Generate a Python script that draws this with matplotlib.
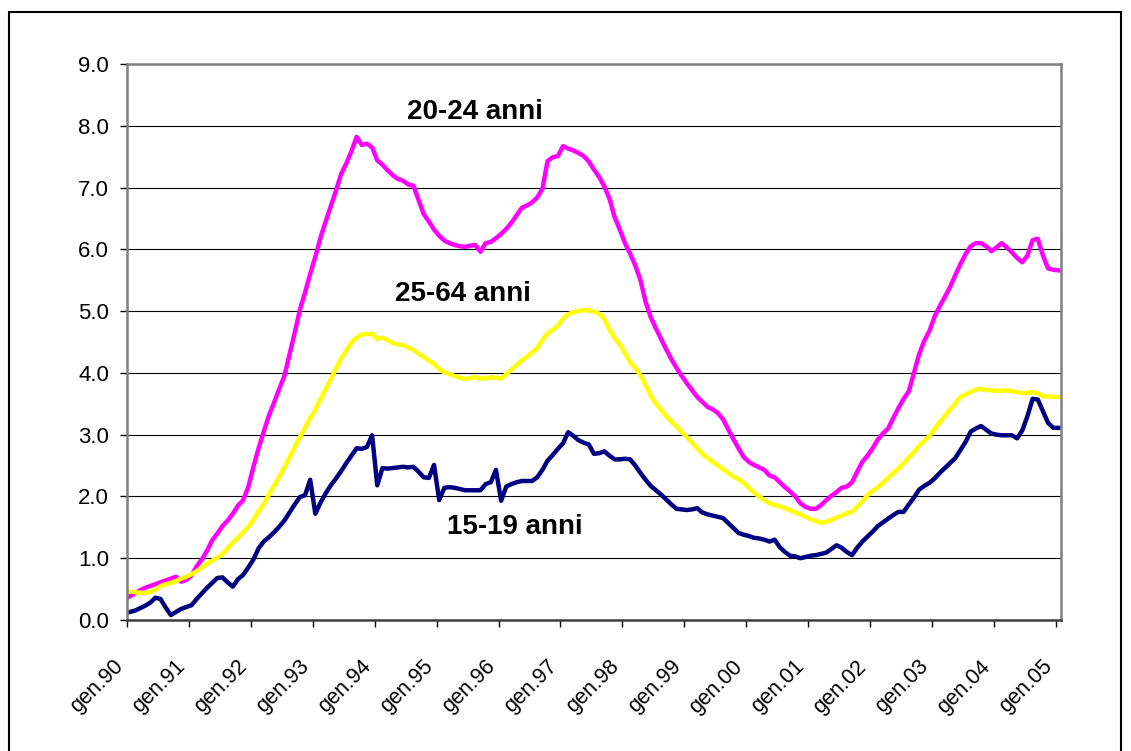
import numpy as np
import matplotlib
matplotlib.use('Agg')
import matplotlib.pyplot as plt
from matplotlib.patches import Rectangle
from matplotlib.transforms import ScaledTranslation

plt.rcParams['font.family'] = ['Liberation Sans', 'DejaVu Sans']

# tick labels, one every 12 months (gen.90 ... gen.05)
year_labels = ['gen.90', 'gen.91', 'gen.92', 'gen.93', 'gen.94', 'gen.95', 'gen.96', 'gen.97',
               'gen.98', 'gen.99', 'gen.00', 'gen.01', 'gen.02', 'gen.03', 'gen.04', 'gen.05']

# monthly values, gen.90 -> gen.05
age_20_24 = [0.38, 0.43, 0.48, 0.52, 0.55, 0.58, 0.61, 0.64, 0.67, 0.70, 0.62, 0.65,
             0.72, 0.87, 0.98, 1.12, 1.29, 1.40, 1.52, 1.61, 1.72, 1.85, 1.94, 2.15,
             2.48, 2.78, 3.05, 3.31, 3.52, 3.74, 3.95, 4.30, 4.65, 5.02, 5.30, 5.60,
             5.88, 6.19, 6.45, 6.70, 6.95, 7.22, 7.39, 7.59, 7.82, 7.69, 7.71, 7.65,
             7.44, 7.37, 7.28, 7.20, 7.14, 7.11, 7.05, 7.03, 6.80, 6.57, 6.45, 6.32,
             6.22, 6.14, 6.10, 6.07, 6.05, 6.04, 6.06, 6.07, 5.96, 6.10, 6.12, 6.18,
             6.25, 6.33, 6.43, 6.55, 6.67, 6.71, 6.76, 6.84, 6.98, 7.43, 7.49, 7.51,
             7.67, 7.63, 7.60, 7.56, 7.51, 7.42, 7.29, 7.17, 7.02, 6.82, 6.52, 6.32,
             6.10, 5.93, 5.74, 5.50, 5.15, 4.90, 4.72, 4.55, 4.38, 4.22, 4.08, 3.95,
             3.83, 3.72, 3.61, 3.53, 3.45, 3.41, 3.35, 3.25, 3.09, 2.93, 2.78, 2.64,
             2.56, 2.51, 2.47, 2.43, 2.34, 2.31, 2.23, 2.15, 2.08, 2.00, 1.89, 1.83,
             1.80, 1.80, 1.86, 1.94, 2.01, 2.07, 2.14, 2.16, 2.23, 2.40, 2.56, 2.66,
             2.78, 2.92, 3.02, 3.10, 3.27, 3.43, 3.58, 3.70, 4.00, 4.30, 4.52, 4.68,
             4.91, 5.08, 5.23, 5.39, 5.58, 5.76, 5.92, 6.05, 6.10, 6.10, 6.05, 5.97,
             6.03, 6.10, 6.03, 5.95, 5.86, 5.79, 5.90, 6.15, 6.17, 5.90, 5.69, 5.67,
             5.66]

age_25_64 = [0.46, 0.45, 0.44, 0.44, 0.45, 0.49, 0.55, 0.58, 0.60, 0.63, 0.67, 0.70,
             0.74, 0.79, 0.85, 0.91, 0.96, 1.01, 1.07, 1.16, 1.25, 1.33, 1.42, 1.51,
             1.62, 1.76, 1.88, 2.03, 2.17, 2.32, 2.47, 2.64, 2.80, 2.96, 3.11, 3.27,
             3.40, 3.58, 3.74, 3.90, 4.07, 4.23, 4.36, 4.49, 4.57, 4.62, 4.63, 4.63,
             4.55, 4.57, 4.53, 4.48, 4.46, 4.45, 4.41, 4.37, 4.31, 4.26, 4.20, 4.15,
             4.06, 4.01, 3.98, 3.95, 3.92, 3.90, 3.92, 3.93, 3.91, 3.91, 3.93, 3.92,
             3.91, 3.98, 4.05, 4.13, 4.20, 4.26, 4.33, 4.40, 4.53, 4.64, 4.70, 4.76,
             4.88, 4.95, 4.98, 5.00, 5.02, 5.01, 4.99, 4.96, 4.87, 4.70, 4.56, 4.46,
             4.32, 4.17, 4.08, 3.96, 3.80, 3.63, 3.50, 3.40, 3.30, 3.21, 3.13, 3.04,
             2.96, 2.87, 2.78, 2.69, 2.62, 2.56, 2.50, 2.44, 2.38, 2.32, 2.28, 2.22,
             2.14, 2.06, 2.00, 1.94, 1.89, 1.86, 1.84, 1.81, 1.78, 1.74, 1.71, 1.67,
             1.63, 1.60, 1.57, 1.59, 1.62, 1.66, 1.69, 1.73, 1.75, 1.83, 1.92, 2.02,
             2.09, 2.15, 2.22, 2.30, 2.38, 2.45, 2.54, 2.63, 2.72, 2.82, 2.90, 2.98,
             3.09, 3.20, 3.30, 3.41, 3.50, 3.61, 3.65, 3.69, 3.73, 3.74, 3.72, 3.72,
             3.71, 3.71, 3.72, 3.70, 3.69, 3.67, 3.68, 3.69, 3.67, 3.62, 3.62, 3.61,
             3.61]

age_15_19 = [0.13, 0.15, 0.19, 0.23, 0.28, 0.36, 0.34, 0.20, 0.08, 0.13, 0.18, 0.21,
             0.24, 0.34, 0.43, 0.52, 0.60, 0.68, 0.69, 0.61, 0.54, 0.66, 0.73, 0.85,
             0.98, 1.16, 1.27, 1.34, 1.42, 1.51, 1.61, 1.74, 1.87, 1.99, 2.02, 2.27,
             1.72, 1.90, 2.05, 2.18, 2.29, 2.41, 2.54, 2.66, 2.78, 2.77, 2.80, 2.99,
             2.18, 2.46, 2.45, 2.46, 2.47, 2.48, 2.47, 2.48, 2.40, 2.31, 2.30, 2.51,
             1.94, 2.14, 2.15, 2.14, 2.12, 2.10, 2.10, 2.10, 2.10, 2.20, 2.23, 2.43,
             1.93, 2.16, 2.20, 2.23, 2.25, 2.25, 2.25, 2.31, 2.43, 2.58, 2.67, 2.77,
             2.86, 3.04, 2.98, 2.91, 2.87, 2.84, 2.69, 2.70, 2.73, 2.66, 2.60, 2.60,
             2.61, 2.60, 2.50, 2.38, 2.27, 2.17, 2.10, 2.03, 1.95, 1.87, 1.80, 1.79,
             1.78, 1.79, 1.81, 1.74, 1.71, 1.69, 1.67, 1.65, 1.57, 1.49, 1.41, 1.38,
             1.36, 1.33, 1.32, 1.30, 1.27, 1.30, 1.18, 1.10, 1.04, 1.03, 1.00, 1.02,
             1.04, 1.05, 1.07, 1.09, 1.15, 1.21, 1.17, 1.10, 1.05, 1.17, 1.27, 1.35,
             1.43, 1.52, 1.58, 1.64, 1.70, 1.75, 1.75, 1.87, 1.98, 2.11, 2.17, 2.22,
             2.29, 2.38, 2.46, 2.54, 2.62, 2.75, 2.88, 3.05, 3.10, 3.14, 3.08, 3.02,
             3.00, 2.99, 2.99, 2.99, 2.94, 3.07, 3.30, 3.58, 3.57, 3.38, 3.19, 3.11,
             3.11]

W, H = 1131, 751
fig = plt.figure(figsize=(W / 100, H / 100), dpi=100)
fig.patch.set_facecolor('white')

# outer chart border (bottom edge falls outside the picture)
fig.patches.append(Rectangle((9 / W, 1 - 770 / H), (1121 - 9) / W, (770 - 12) / H,
                             transform=fig.transFigure, fill=False, ec='black', lw=1.5,
                             clip_on=False))

ax = fig.add_axes([127 / W, 1 - 620 / H, (1061 - 127) / W, (620 - 64) / H])

# categories are centred between tick marks (Excel style)
months = np.arange(len(age_20_24)) + 0.5
ax.plot(months, age_20_24, color='#FF00FF', lw=3.2)
ax.plot(months, age_25_64, color='#FFFF00', lw=3.2)
ax.plot(months, age_15_19, color='#000080', lw=3.2)

ax.set_xlim(0, len(months))
ax.set_ylim(0, 9)

ax.set_yticks(np.arange(0, 10))
ax.set_yticklabels(['%.1f' % v for v in range(10)], fontsize=16)
ax.yaxis.grid(True, color='black', lw=0.8)
ax.set_axisbelow(True)
ax.tick_params(axis='y', length=5, width=1, pad=8)

ax.set_xticks(np.arange(0, len(months), 12))
ax.set_xticklabels(year_labels, rotation=45, ha='right', va='top',
                   rotation_mode='anchor', fontsize=15.5)
ax.tick_params(axis='x', length=5, width=1, pad=21)
shift = ScaledTranslation(-14 / 100, 0, fig.dpi_scale_trans)
for lab in ax.get_xticklabels():
    lab.set_transform(lab.get_transform() + shift)

for side in ['top', 'right', 'left']:
    ax.spines[side].set_color('#808080')
    ax.spines[side].set_linewidth(1.8)
ax.spines['bottom'].set_color('#404040')
ax.spines['bottom'].set_linewidth(1.8)

# series labels
ax.text(67.4, 8.22, '20-24 anni', fontsize=20, fontweight='bold', ha='center', va='center')
ax.text(65.1, 5.27, '25-64 anni', fontsize=20, fontweight='bold', ha='center', va='center')
ax.text(75.2, 1.50, '15-19 anni', fontsize=20, fontweight='bold', ha='center', va='center')

fig.savefig('out.png', dpi=100)
